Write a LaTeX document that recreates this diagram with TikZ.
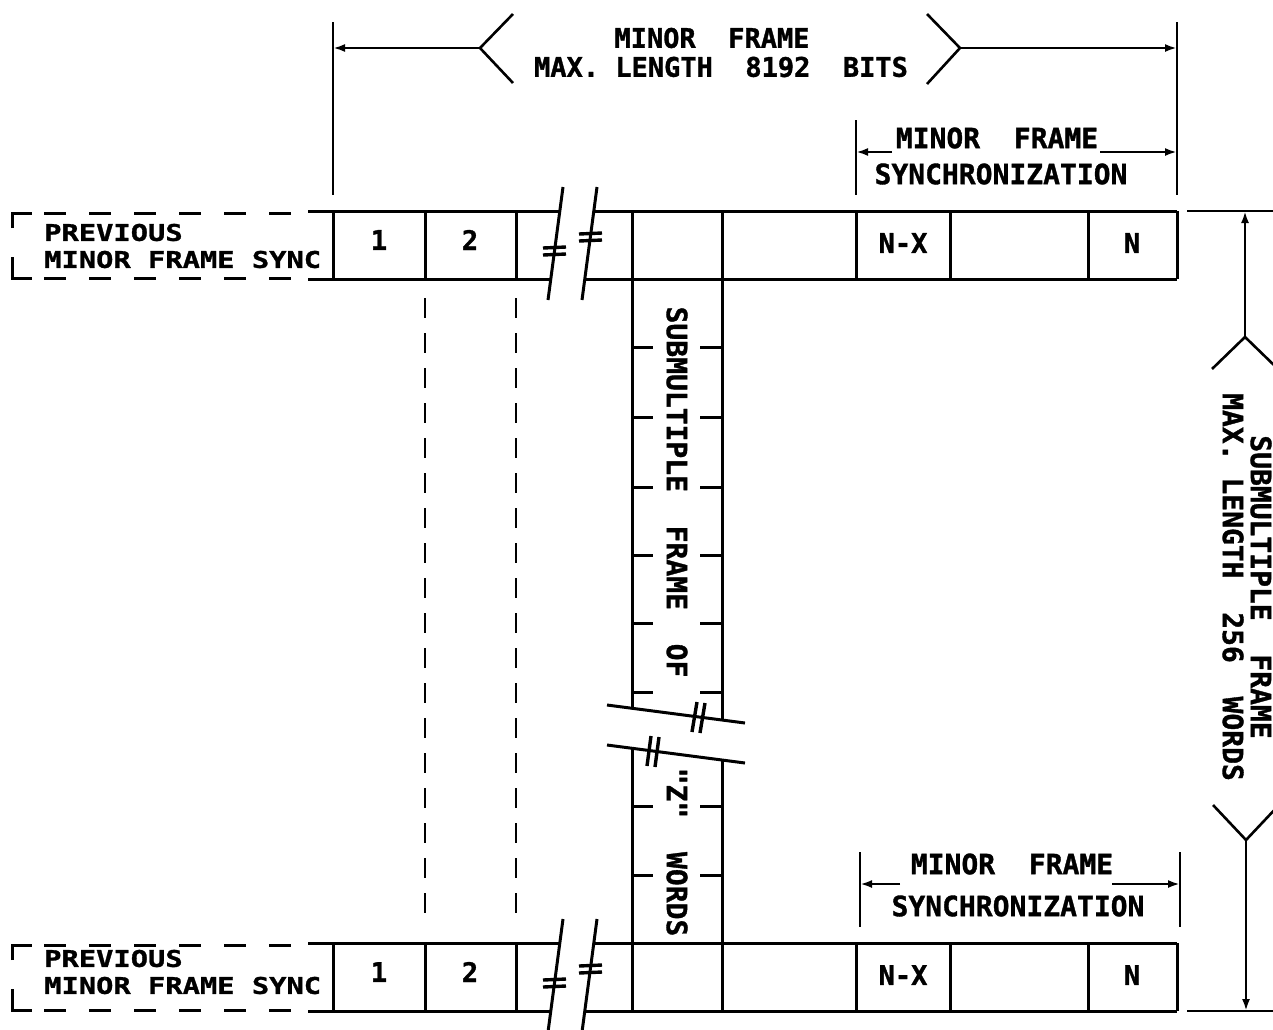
\documentclass[tikz,border=0pt]{standalone}
\usepackage{fontspec}
\usetikzlibrary{arrows.meta}
\newfontfamily\lf[FakeBold=1.2]{DejaVu Sans Mono}
\newfontfamily\lfw[FakeStretch=1.25,FakeBold=1.2]{DejaVu Sans Mono}
\tikzset{
  lbl/.style={inner sep=0pt, font=\lf\bfseries\fontsize{28}{32}\selectfont},
  ttl/.style={inner sep=0pt, font=\lf\bfseries\fontsize{27}{30}\selectfont},
  prev/.style={inner sep=0pt, anchor=west, align=left, font=\lfw\bfseries\fontsize{23}{27}\selectfont},
  ln/.style={line width=3pt},
  dim/.style={line width=2.6pt},
  tip/.style={-{Latex[length=12pt,width=8pt]}},
  dsh/.style={line width=2.6pt, dash pattern=on 20pt off 15pt},
  brk/.style={line width=3pt},
  bmk/.style={line width=3.4pt},
}
\begin{document}
\begin{tikzpicture}[x=1pt,y=-1pt]
\useasboundingbox (0,0) rectangle (1273,1029);

% ---------- top dimension: minor frame ----------
\coordinate (tl) at (333,48);
\coordinate (tr) at (1177,48);
\coordinate (cl) at (480,48);
\coordinate (cr) at (960,48);
\draw[dim] (333,22) -- (333,195);
\draw[dim] (1177,22) -- (1177,195);
\draw[dim,tip] (cl) -- (tl);
\draw[dim,tip] (cr) -- (tr);
\draw[dim] (513,14) -- (cl) -- (513,83);
\draw[dim] (927,14) -- (cr) -- (927,84);
\node[ttl] (t1) at (712,38) {MINOR~~FRAME};
\node[ttl] (t2) at (721,67) {MAX. LENGTH~~8192~~BITS};

% ---------- sync dimension top ----------
\coordinate (s1l) at (856,152);
\coordinate (s1r) at (1177,152);
\draw[dim] (856,120) -- (856,195);
\draw[dim,tip] (892,152) -- (s1l);
\draw[dim,tip] (1100,152) -- (s1r);
\node[lbl] (sy1a) at (997,138) {MINOR~~FRAME};
\node[lbl] (sy1b) at (1001,174) {SYNCHRONIZATION};

% ---------- sync dimension bottom ----------
\coordinate (s2l) at (860,884);
\coordinate (s2r) at (1180,884);
\draw[dim] (860,852) -- (860,927);
\draw[dim] (1180,852) -- (1180,927);
\draw[dim,tip] (900,884) -- (s2l);
\draw[dim,tip] (1112,884) -- (s2r);
\node[lbl] (sy2a) at (1012,864) {MINOR~~FRAME};
\node[lbl] (sy2b) at (1018,906) {SYNCHRONIZATION};

% ---------- rows ----------
\foreach \o in {0,732}{
  % solid top and bottom lines with break gap
  \draw[ln] (308,211+\o) -- (559.8,211+\o);
  \draw[ln] (593.8,211+\o) -- (1177,211+\o);
  \draw[ln] (308,279+\o) -- (550.8,279+\o);
  \draw[ln] (584.8,279+\o) -- (1177,279+\o);
  % dividers
  \foreach \x in {333,425,516,856,950,1088,1177}
    \draw[ln] (\x,211+\o) -- (\x,279+\o);
  % break lines
  \draw[brk] (563,187+\o) -- (548,300+\o);
  \draw[brk] (597,187+\o) -- (582,300+\o);
  % break marks
  \draw[bmk] (543,248+\o) -- (566,247+\o) (543,255+\o) -- (566,254+\o);
  \draw[bmk] (579,234+\o) -- (602,233+\o) (579,241+\o) -- (602,240+\o);
  % dashed "previous" box
  \draw[ln] (12,228+\o) -- (12,213+\o) -- (32,213+\o);
  \draw[ln] (12,257+\o) -- (12,278+\o) -- (32,278+\o);
  \foreach \x in {44,89,134,179,224,269}{
    \draw[ln] (\x,213+\o) -- (\x+22,213+\o);
    \draw[ln] (\x,278+\o) -- (\x+22,278+\o);
  }
}

% cell texts
\node[ttl] (c1a) at (379,240) {1};
\node[ttl] (c2a) at (470,240) {2};
\node[ttl] (cnxa) at (903,243) {N-X};
\node[ttl] (cna) at (1132,243) {N};
\node[ttl] (c1b) at (379,972) {1};
\node[ttl] (c2b) at (470,972) {2};
\node[ttl] (cnxb) at (903,975) {N-X};
\node[ttl] (cnb) at (1132,975) {N};

\node[prev] (p1) at (44,246) {PREVIOUS\\MINOR FRAME SYNC};
\node[prev] (p2) at (44,972) {PREVIOUS\\MINOR FRAME SYNC};

% ---------- dashed continuation lines ----------
\draw[dsh] (425,298) -- (425,922);
\draw[dsh] (516,298) -- (516,922);

% ---------- submultiple column ----------
\draw[ln] (632,211) -- (632,708.3);
\draw[ln] (722,211) -- (722,720);
\draw[ln] (632,748.3) -- (632,1011);
\draw[ln] (722,760) -- (722,1011);
\foreach \y in {347,417,487,555,623,692,806,875}{
  \draw[ln] (632,\y) -- (653,\y);
  \draw[ln] (700,\y) -- (722,\y);
}
\draw[brk] (607,705) -- (745,723);
\draw[brk] (607,745) -- (745,763);
\draw[bmk] (692,732) -- (697,702) (700,733) -- (705,703);
\draw[bmk] (647,766) -- (651,736) (655,767) -- (659,737);
\node[lbl,rotate=-90] (colA) at (677,492) {SUBMULTIPLE~~FRAME~~OF};
\node[lbl,rotate=-90] (colB) at (677,852) {"Z"~~WORDS};

% ---------- right dimension: submultiple frame ----------
\coordinate (rt) at (1245,211);
\coordinate (rb) at (1246,1011);
\coordinate (vt) at (1245,337);
\coordinate (vb) at (1246,840);
\draw[dim] (1187,211) -- (1273,211);
\draw[dim] (1187,1011) -- (1273,1011);
\draw[dim,tip] (vt) -- (rt);
\draw[dim,tip] (vb) -- (rb);
\draw[dim] (1212,369) -- (vt) -- (1278,369);
\draw[dim] (1213,805) -- (vb) -- (1279,805);
\node[lbl,rotate=-90] (r1) at (1261,587) {SUBMULTIPLE~~FRAME};
\node[lbl,rotate=-90] (r2) at (1233,587) {MAX. LENGTH~~256~~WORDS};
\end{tikzpicture}
\end{document}
